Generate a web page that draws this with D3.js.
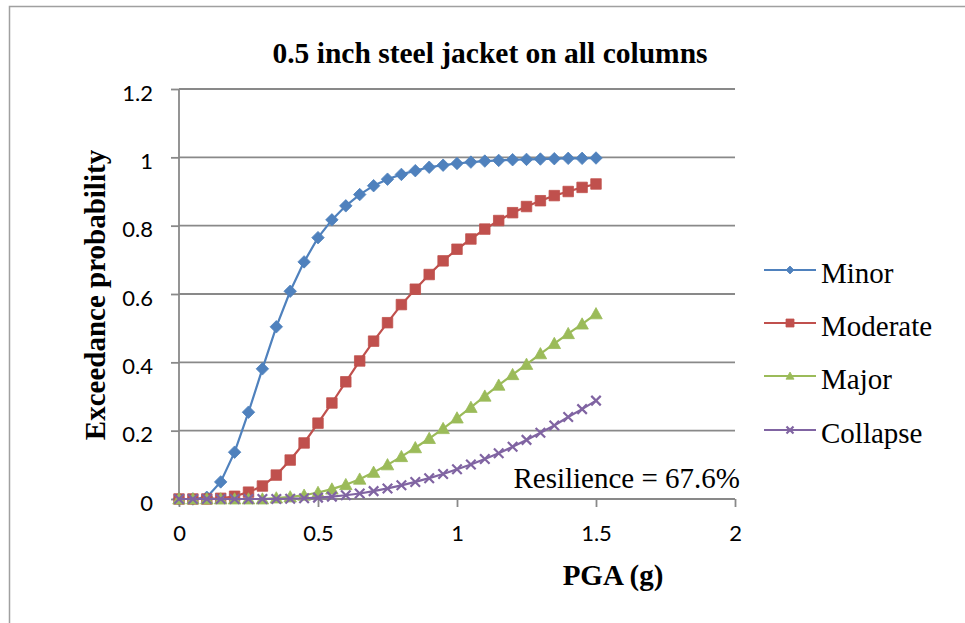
<!DOCTYPE html>
<html>
<head>
<meta charset="utf-8">
<script src="https://cdn.jsdelivr.net/npm/d3@7/dist/d3.min.js"></script>
<style>
  html, body { margin: 0; padding: 0; background: #fff; }
  svg { display: block; }
</style>
</head>
<body>
<svg id="chart" width="965" height="623"></svg>
<script>
// Fragility curves: exceedance probability vs. peak ground acceleration
const pga = [0, 0.05, 0.1, 0.15, 0.2, 0.25, 0.3, 0.35, 0.4, 0.45, 0.5, 0.55, 0.6, 0.65, 0.7, 0.75,
             0.8, 0.85, 0.9, 0.95, 1.0, 1.05, 1.1, 1.15, 1.2, 1.25, 1.3, 1.35, 1.4, 1.45, 1.5];

const minor = [0, 0, 0.005, 0.05, 0.137, 0.254, 0.381, 0.504, 0.608, 0.694, 0.765, 0.817, 0.858, 0.891, 0.917, 0.936,
               0.950, 0.961, 0.971, 0.977, 0.982, 0.986, 0.989, 0.991, 0.993, 0.994, 0.995, 0.996, 0.997, 0.997, 0.998];
const moderate = [0, 0, 0, 0.002, 0.008, 0.020, 0.038, 0.070, 0.114, 0.164, 0.222, 0.281, 0.343, 0.404, 0.462, 0.516,
                  0.569, 0.614, 0.657, 0.697, 0.731, 0.761, 0.790, 0.815, 0.838, 0.856, 0.873, 0.888, 0.900, 0.912, 0.922];
const major = [0, 0, 0, 0, 0, 0, 0, 0.003, 0.006, 0.011, 0.019, 0.029, 0.042, 0.058, 0.078, 0.100,
               0.124, 0.150, 0.177, 0.206, 0.237, 0.268, 0.301, 0.333, 0.364, 0.394, 0.425, 0.455, 0.484, 0.512, 0.542];
const collapse = [0, 0, 0, 0, 0, 0, 0, 0, 0.001, 0.002, 0.004, 0.007, 0.011, 0.016, 0.023, 0.031,
                  0.040, 0.050, 0.061, 0.073, 0.087, 0.101, 0.117, 0.134, 0.153, 0.173, 0.194, 0.215, 0.240, 0.263, 0.288];

const seriesNames = ["Minor", "Moderate", "Major", "Collapse"];
const seriesValues = [minor, moderate, major, collapse];
const seriesColors = ["#4f81bd", "#c0504d", "#9bbb59", "#8064a2"];
const seriesMarkers = ["diamond", "square", "triangle", "cross"];

const xTicks = [0, 0.5, 1, 1.5, 2];
const yTicks = [0, 0.2, 0.4, 0.6, 0.8, 1, 1.2];

const titleText = "0.5 inch steel jacket on all columns";
const xTitle = "PGA (g)";
const yTitle = "Exceedance probability";
const noteText = "Resilience = 67.6%";

// Layout
const svg = d3.select("#chart");
const plot = { left: 179, right: 735, top: 89, bottom: 499 };
const axisGray = "#898989";
const serif = "'Liberation Serif', 'Times New Roman', serif";
const sans = "Lato, 'Open Sans', sans-serif";

const x = d3.scaleLinear().domain([0, 2]).range([plot.left, plot.right]);
const y = d3.scaleLinear().domain([0, 1.2]).range([plot.bottom, plot.top]);

svg.append("rect").attr("width", 965).attr("height", 623).attr("fill", "#fff");

// Chart frame
svg.append("rect")
  .attr("x", 9.5).attr("y", 6.5).attr("width", 1000).attr("height", 1000)
  .attr("fill", "none").attr("stroke", "#a0a0a0").attr("stroke-width", 1.5);

// Horizontal gridlines
svg.append("g")
  .selectAll("line")
  .data(yTicks.filter(d => d > 0))
  .join("line")
  .attr("x1", plot.left).attr("x2", plot.right)
  .attr("y1", d => y(d)).attr("y2", d => y(d))
  .attr("stroke", axisGray).attr("stroke-width", 1.8);

// Y axis
const yAxis = svg.append("g")
  .attr("transform", `translate(${plot.left},0)`)
  .call(d3.axisLeft(y).tickValues(yTicks).tickSize(8).tickPadding(18)
    .tickFormat(d => d3.format("")(+d.toFixed(1))));
yAxis.select(".domain").attr("stroke", axisGray).attr("stroke-width", 1.8)
  .attr("d", `M0,${plot.top}V${plot.bottom}`);
yAxis.selectAll(".tick line").attr("stroke", axisGray).attr("stroke-width", 1.8);
yAxis.selectAll(".tick text")
  .attr("font-family", sans).attr("font-size", 22).attr("fill", "#000")
  .attr("dy", "0.5em");

// X axis
const xAxis = svg.append("g")
  .attr("transform", `translate(0,${plot.bottom})`)
  .call(d3.axisBottom(x).tickValues(xTicks).tickSize(8).tickPadding(18)
    .tickFormat(d => String(d)));
xAxis.select(".domain").attr("stroke", axisGray).attr("stroke-width", 1.8)
  .attr("d", `M${plot.left},0H${plot.right}`);
xAxis.selectAll(".tick line").attr("stroke", axisGray).attr("stroke-width", 1.8);
xAxis.selectAll(".tick text")
  .attr("font-family", sans).attr("font-size", 22).attr("fill", "#000");

// Titles
svg.append("text")
  .attr("x", 490).attr("y", 63)
  .attr("text-anchor", "middle")
  .attr("font-family", serif).attr("font-weight", "bold").attr("font-size", 29.5)
  .text(titleText);

svg.append("text")
  .attr("transform", "translate(105,295) rotate(-90)")
  .attr("text-anchor", "middle")
  .attr("font-family", serif).attr("font-weight", "bold").attr("font-size", 29)
  .text(yTitle);

svg.append("text")
  .attr("x", 613).attr("y", 585)
  .attr("text-anchor", "middle")
  .attr("font-family", serif).attr("font-weight", "bold").attr("font-size", 29)
  .text(xTitle);

// Marker path generator
function markerPath(type, s) {
  const h = s / 2;
  switch (type) {
    case "diamond": return `M0,${-h}L${h},0L0,${h}L${-h},0Z`;
    case "square": return `M${-h},${-h}H${h}V${h}H${-h}Z`;
    case "triangle": return `M0,${-h}L${h},${h * 0.8}L${-h},${h * 0.8}Z`;
    case "cross": return `M${-h},${-h}L${h},${h}M${h},${-h}L${-h},${h}`;
  }
}
function styleMarker(sel, type, color) {
  if (type === "cross") {
    sel.attr("fill", "none").attr("stroke", color).attr("stroke-width", 2.2);
  } else {
    sel.attr("fill", color).attr("stroke", color).attr("stroke-width", 0.8);
  }
}

const line = d3.line().x((d, i) => x(pga[i])).y(d => y(d));
const markerSizes = { diamond: 12.5, square: 10.5, triangle: 12.5, cross: 9.5 };

// Series lines and markers
seriesValues.forEach((vals, k) => {
  const g = svg.append("g");
  g.append("path")
    .attr("d", line(vals))
    .attr("fill", "none")
    .attr("stroke", seriesColors[k])
    .attr("stroke-width", 2.2);
  const m = g.selectAll("path.m")
    .data(vals)
    .join("path")
    .attr("class", "m")
    .attr("transform", (d, i) => `translate(${x(pga[i])},${y(d)})`)
    .attr("d", markerPath(seriesMarkers[k], markerSizes[seriesMarkers[k]]));
  styleMarker(m, seriesMarkers[k], seriesColors[k]);
});

// Resilience annotation
svg.append("text")
  .attr("x", 740).attr("y", 488)
  .attr("text-anchor", "end")
  .attr("font-family", serif).attr("font-size", 29)
  .text(noteText);

// Legend
const legend = svg.append("g");
const legendRowY = [270, 323, 376, 430];
seriesNames.forEach((name, k) => {
  const g = legend.append("g").attr("transform", `translate(0,${legendRowY[k]})`);
  g.append("line")
    .attr("x1", 764).attr("x2", 816)
    .attr("stroke", seriesColors[k]).attr("stroke-width", 2.2);
  const mk = g.append("path")
    .attr("transform", "translate(790,0)")
    .attr("d", markerPath(seriesMarkers[k], seriesMarkers[k] === "cross" ? 7 : 8));
  styleMarker(mk, seriesMarkers[k], seriesColors[k]);
  g.append("text")
    .attr("x", 821).attr("y", 13)
    .attr("font-family", serif).attr("font-size", 29)
    .text(name);
});
</script>
</body>
</html>
